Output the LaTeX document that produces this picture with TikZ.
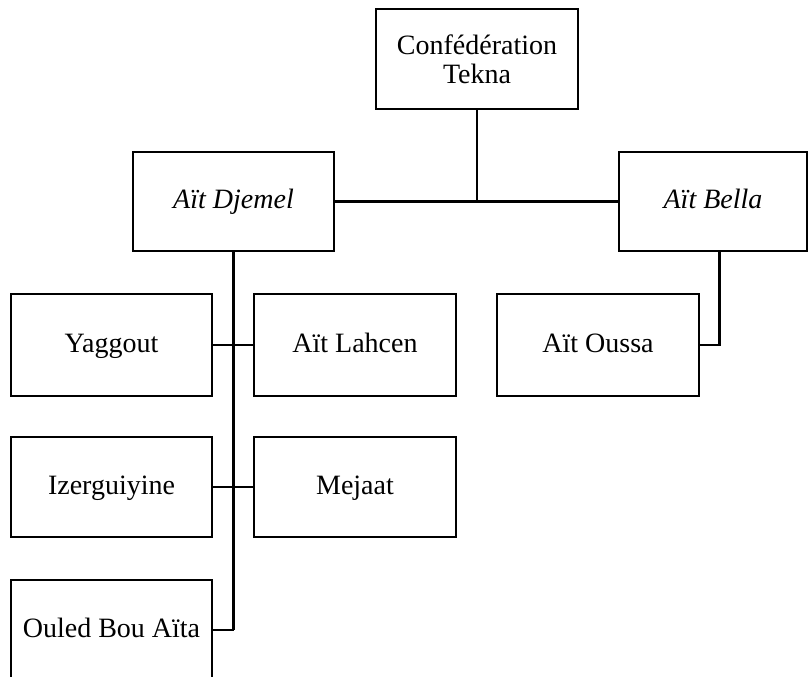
\documentclass[tikz,border=0pt]{standalone}
\usepackage{fontspec}
\setmainfont{Liberation Serif}
\begin{document}
\begin{tikzpicture}[x=0.75pt,y=-0.75pt,
  box/.style={draw=black,line width=1.6pt,rectangle,inner sep=0pt,align=center,
    font=\fontsize{21}{22}\selectfont,text=black},
  one/.style={box,text height=14pt,text depth=3pt},
  link/.style={draw=black,line width=1.6pt},
  trunk/.style={draw=black,line width=2.3pt}]
\useasboundingbox (0,0) rectangle (809,677);
\node[box,minimum width=202*0.75pt,minimum height=100*0.75pt] (tekna) at (477,59) {Confédération\\Tekna};
\node[one,minimum width=201*0.75pt,minimum height=99*0.75pt] (djemel) at (233.5,201.5) {\itshape Aït Djemel};
\node[one,minimum width=188*0.75pt,minimum height=99*0.75pt] (bella) at (713,201.5) {\itshape Aït Bella};
\node[one,minimum width=201*0.75pt,minimum height=102*0.75pt] (yaggout) at (111.5,345) {Yaggout};
\node[one,minimum width=202*0.75pt,minimum height=102*0.75pt] (lahcen) at (355,345) {Aït Lahcen};
\node[one,minimum width=202*0.75pt,minimum height=102*0.75pt] (oussa) at (598,345) {Aït Oussa};
\node[one,minimum width=201*0.75pt,minimum height=100*0.75pt] (izer) at (111.5,487) {Izerguiyine};
\node[one,minimum width=202*0.75pt,minimum height=100*0.75pt] (mejaat) at (355,487) {Mejaat};
\node[one,minimum width=201*0.75pt,minimum height=100*0.75pt] (ouled) at (111.5,630) {Ouled Bou Aïta};
% top level
\draw[link] (djemel.east) -- (bella.west);
\draw[link] (tekna.south) -- (tekna.south |- djemel.east);
% Ait Djemel trunk
\draw[trunk] (djemel.south) -- (djemel.south |- ouled.east);
\draw[link] (djemel.south |- ouled.east) -- (ouled.east);
\draw[link] (yaggout.east) -- (lahcen.west);
\draw[link] (izer.east) -- (mejaat.west);
% Ait Bella
\draw[link] ([xshift=4.9pt]bella.south) |- (oussa.east);
\end{tikzpicture}
\end{document}
